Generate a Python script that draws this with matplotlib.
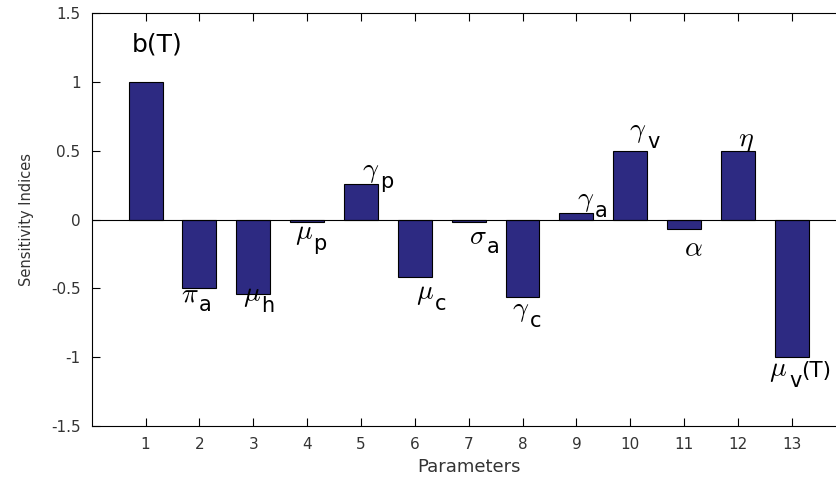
import matplotlib
matplotlib.use("Agg")
import matplotlib.pyplot as plt

plt.rcParams['font.family'] = ['DejaVu Sans']
plt.rcParams['mathtext.fontset'] = 'cm'

# sensitivity indices of the 13 parameters
params = list(range(1, 14))
indices = [1.0, -0.50, -0.54, -0.02, 0.26, -0.42, -0.02, -0.56, 0.05, 0.50, -0.07, 0.50, -1.0]

# parameter names next to the bars: greek symbol, subscript, label centre (data coords)
greek = [r'$\pi$', r'$\mu$', r'$\mu$', r'$\gamma$', r'$\mu$', r'$\sigma$',
         r'$\gamma$', r'$\gamma$', r'$\gamma$', r'$\alpha$', r'$\eta$']
subs = ['a', 'h', 'p', 'p', 'c', 'a', 'c', 'a', 'v', '', '']
name_x = [1.93, 3.09, 4.05, 5.29, 6.31, 7.28, 8.07, 9.28, 10.25, 11.18, 12.14]
name_y = [-0.57, -0.58, -0.13, 0.32, -0.56, -0.15, -0.69, 0.11, 0.61, -0.21, 0.58]

yticks = [-1.5, -1, -0.5, 0, 0.5, 1, 1.5]
ytick_labels = ['-1.5', '-1', '-0.5', '0', '0.5', '1', '1.5']

fig = plt.figure(figsize=(8.37, 4.79), dpi=100)
ax = fig.add_axes([0.1096, 0.1106, 0.9007, 0.862])

ax.bar(params, indices, width=0.63, color='#2d2a82', edgecolor='black', linewidth=0.8)
ax.axhline(0, color='black', linewidth=0.8)

for g, sb, tx, ty in zip(greek, subs, name_x, name_y):
    if sb:
        ax.text(tx + 0.05, ty + 0.03, g, fontsize=20, ha='right', va='center')
        ax.text(tx + 0.06, ty - 0.05, sb, fontsize=15, ha='left', va='center')
    else:
        ax.text(tx, ty, g, fontsize=20, ha='center', va='center')

ax.text(0.75, 1.27, 'b(T)', fontsize=18, ha='left', va='center')
ax.text(12.58, -1.09, r'$\mu$', fontsize=20, ha='left', va='center')
ax.text(12.95, -1.17, 'v', fontsize=15, ha='left', va='center')
ax.text(13.18, -1.10, '(T)', fontsize=15.5, ha='left', va='center')

ax.set_xlim(0, 14)
ax.set_ylim(-1.5, 1.5)
ax.set_xticks(params)
ax.set_yticks(yticks)
ax.set_yticklabels(ytick_labels)
ax.tick_params(direction='in', top=True, right=True, length=6, width=0.8,
               labelsize=11, labelcolor='#333333', pad=8)
for s in ax.spines.values():
    s.set_linewidth(0.8)

ax.set_xlabel('Parameters', fontsize=13, color='#333333', labelpad=4)
ax.set_ylabel('Sensitivity Indices', fontsize=10.5, color='#333333', labelpad=12)

fig.savefig('out.png', dpi=100)
